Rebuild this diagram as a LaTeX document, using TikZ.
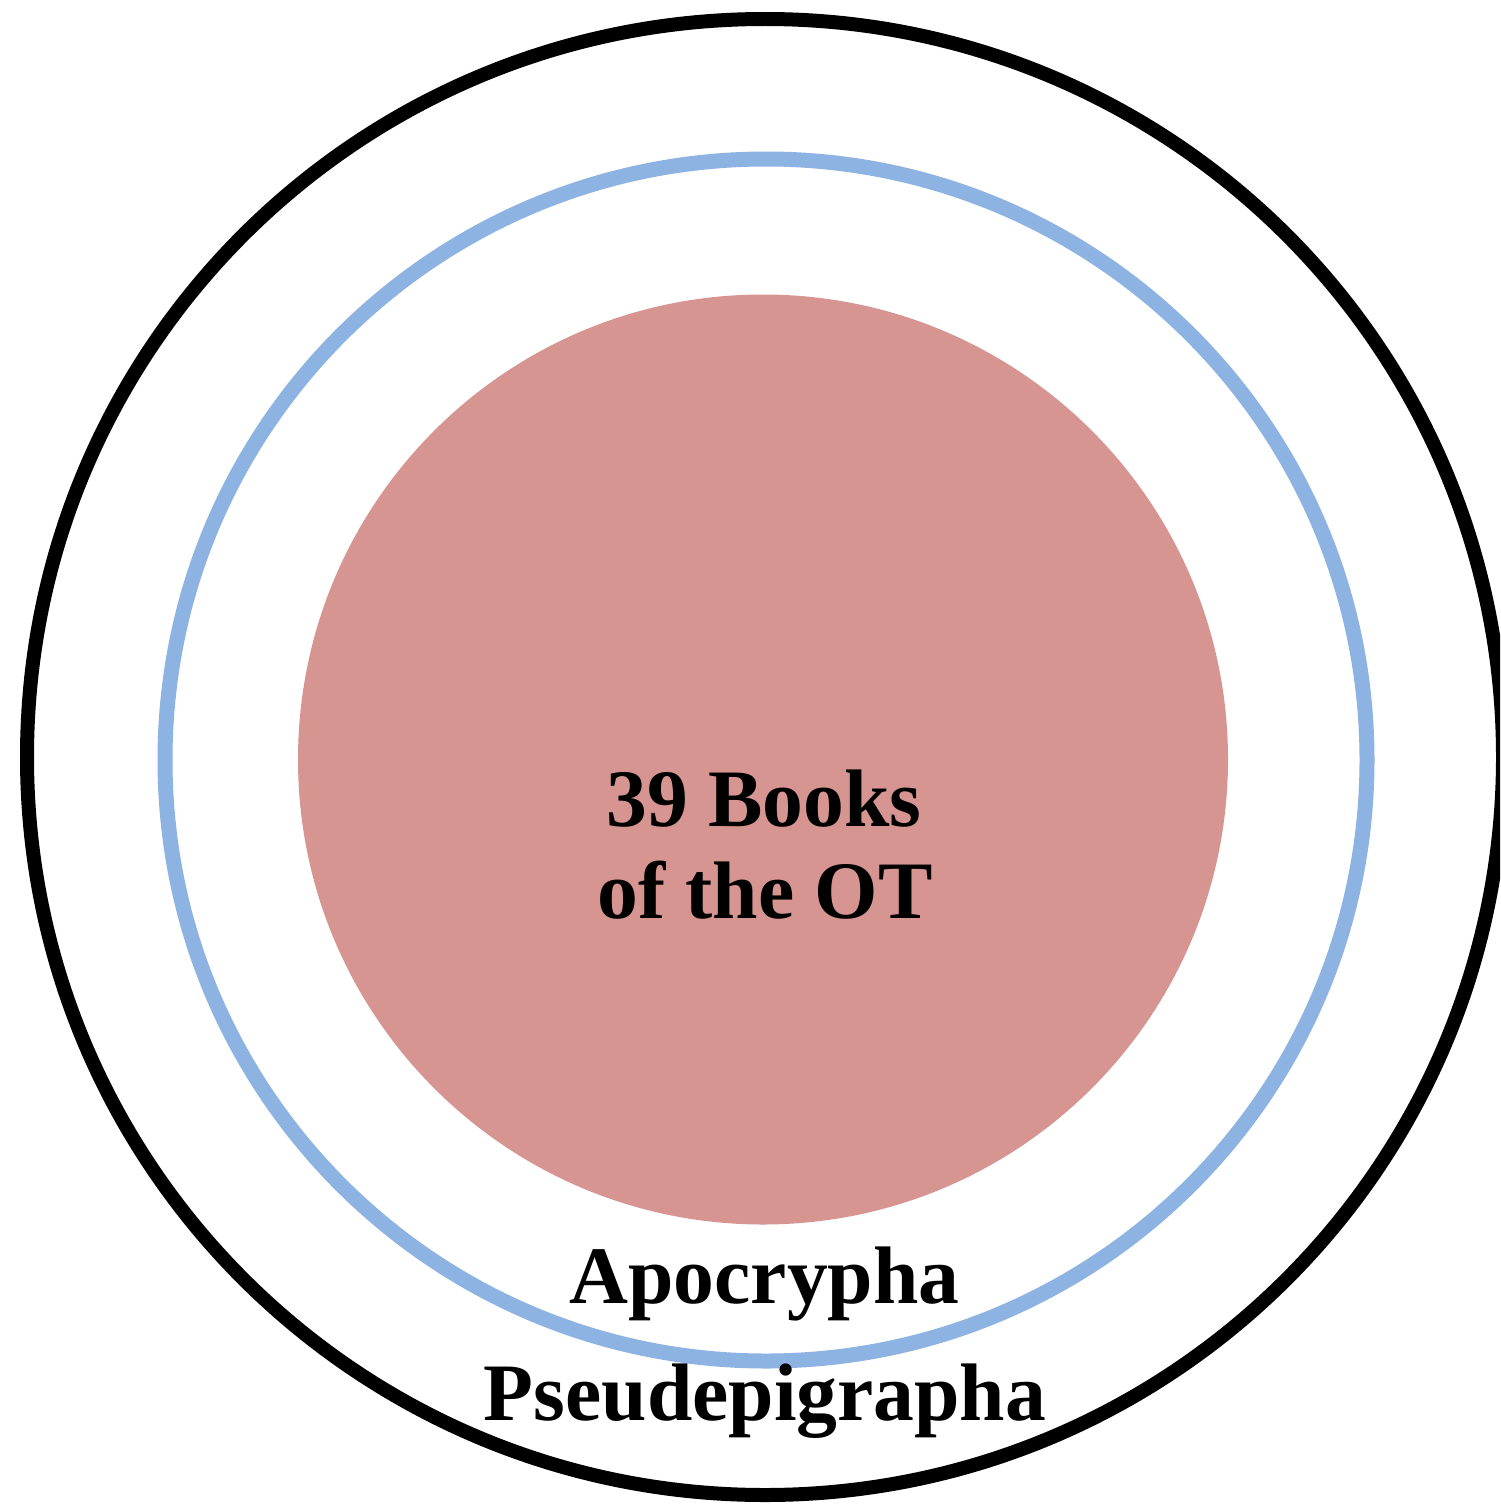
\documentclass[tikz,border=0pt]{standalone}
\usepackage{fontspec}
\setmainfont{Liberation Serif}
\definecolor{ringblue}{HTML}{8DB3E2}
\definecolor{corered}{HTML}{D79592}
\tikzset{
  lbl/.style={font=\fontsize{40.8pt}{46pt}\selectfont\bfseries, inner sep=0pt, anchor=base, text=black},
}
\begin{document}
\begin{tikzpicture}[x=0.5pt,y=-0.5pt]
\useasboundingbox (0,0) rectangle (1500,1504);
\clip (0,0) rectangle (1500,1504);
\fill[white] (0,0) rectangle (1500,1504);
\draw[black, line width=7pt] (765,757) circle[radius=369pt];
\draw[ringblue, line width=7.5pt] (766,760) circle[radius=300.5pt];
\fill[corered] (763,759.5) circle[radius=232.5pt];
\node[lbl] (l1) at (764,826) {39 Books};
\node[lbl] (l2) at (765,918) {of the OT};
\node[lbl] (apo) at (764.5,1303) {Apocrypha};
\node[lbl] (pse) at (765,1420) {Pseudepigrapha};
\end{tikzpicture}
\end{document}
